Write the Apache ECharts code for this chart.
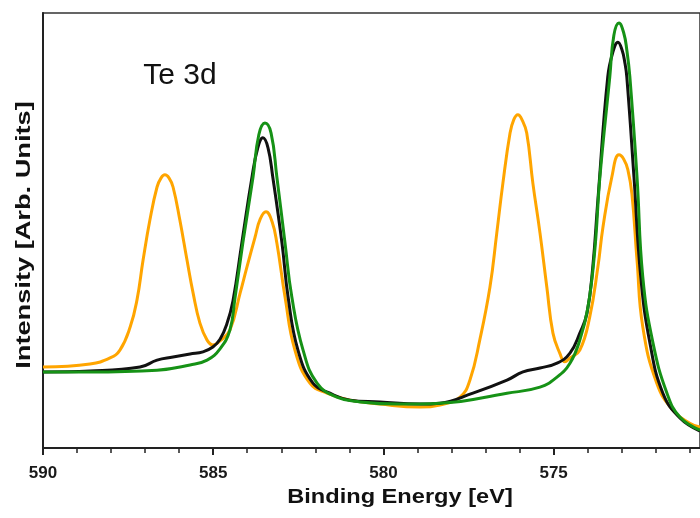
<!DOCTYPE html>
<html>
<head>
<meta charset="utf-8">
<script src="https://cdn.jsdelivr.net/npm/echarts@6/dist/echarts.min.js"></script>
<style>
	html, body { margin: 0; padding: 0; background: #fff; }
	#chart { width: 700px; height: 518px; }
</style>
</head>
<body>
<div id="chart"></div>
<script>
// 结合能 (eV) 与强度 (任意单位)
const orangeE = [590.00, 588.62, 588.03, 587.74, 587.44, 587.24, 587.06, 586.86, 586.65, 586.53,
	586.42, 586.30, 586.18, 585.98, 585.77, 585.59, 585.39, 585.18, 585.01, 584.80,
	584.51, 584.21, 584.01, 583.77, 583.62, 583.45, 583.27, 583.13, 582.89, 582.60,
	582.16, 581.66, 580.98, 580.10, 578.93, 578.34, 577.75, 577.46, 577.17, 576.87,
	576.67, 576.49, 576.28, 576.17, 576.05, 575.93, 575.79, 575.61, 575.40, 575.20,
	575.02, 574.82, 574.67, 574.52, 574.23, 573.94, 573.70, 573.55, 573.29, 573.08,
	572.94, 572.82, 572.70, 572.55, 572.38, 571.97, 571.50, 571.00, 570.70];
const orangeI = [18.6, 19.3, 20.7, 22.5, 27.8, 34.0, 43.2, 52.4, 60.0, 62.1,
	62.8, 62.1, 60.0, 52.4, 43.2, 35.6, 28.7, 24.8, 23.7, 24.6,
	27.1, 35.6, 41.6, 48.5, 52.6, 54.3, 52.0, 47.1, 34.7, 22.5,
	14.9, 12.6, 11.0, 10.1, 9.4, 9.9, 11.7, 15.6, 24.8, 37.0,
	49.4, 60.9, 72.4, 75.5, 76.6, 75.5, 72.4, 60.9, 49.4, 37.0,
	26.4, 21.8, 19.8, 20.7, 22.5, 30.1, 41.6, 50.8, 62.3, 67.4,
	66.4, 64.0, 58.4, 43.2, 27.8, 14.9, 8.7, 5.7, 4.8];

const blackE = [590.00, 588.62, 587.15, 586.65, 586.18, 585.68, 585.30, 585.01, 584.80, 584.60,
	584.42, 584.16, 583.86, 583.69, 583.54, 583.39, 583.25, 582.98, 582.80, 582.51,
	582.07, 581.57, 580.98, 580.10, 578.93, 578.34, 577.37, 576.37, 575.90, 575.40,
	574.90, 574.52, 574.23, 574.02, 573.85, 573.70, 573.41, 573.26, 573.11, 572.99,
	572.91, 572.85, 572.64, 572.44, 572.17, 571.79, 571.29, 570.70];
const blackI = [17.5, 17.7, 18.6, 20.2, 20.9, 21.6, 22.1, 23.2, 25.0, 28.5,
	33.8, 47.1, 62.3, 69.0, 71.3, 69.0, 62.3, 47.1, 34.7, 22.5,
	14.9, 12.6, 11.0, 10.6, 10.1, 10.3, 12.6, 15.6, 17.5, 18.4,
	19.5, 21.8, 26.4, 31.0, 41.6, 57.0, 85.3, 91.0, 93.3, 91.5,
	88.7, 85.3, 62.3, 39.3, 24.1, 12.6, 6.9, 3.9];

const greenE = [590.00, 588.62, 586.65, 585.68, 585.18, 584.80, 584.51, 584.36, 584.13, 583.83,
	583.66, 583.48, 583.30, 583.13, 582.89, 582.69, 582.36, 581.95, 581.37, 580.69,
	579.52, 578.34, 576.37, 575.40, 574.90, 574.52, 574.23, 573.99, 573.79, 573.64,
	573.35, 573.23, 573.08, 572.94, 572.85, 572.76, 572.55, 572.38, 572.08, 571.67,
	571.29, 570.70];
const greenI = [17.5, 17.5, 17.9, 19.1, 20.2, 22.8, 27.1, 34.5, 47.1, 62.3,
	72.0, 74.7, 72.4, 62.3, 47.1, 34.7, 22.5, 14.9, 11.7, 10.6,
	10.1, 10.3, 12.6, 14.0, 16.3, 19.5, 24.8, 32.4, 45.5, 62.3,
	85.3, 94.9, 97.7, 95.4, 91.5, 85.3, 62.3, 39.3, 24.1, 12.6,
	7.1, 4.1];

// 坐标范围与刻度
const xMin = 570.7;
const xMax = 590;
const majorTicks = [575, 580, 585, 590];
const minorTicks = [571, 572, 573, 574, 576, 577, 578, 579, 581, 582, 583, 584, 586, 587, 588, 589];

const chartDom = document.getElementById('chart');
const chartInstance = echarts.init(chartDom, null, { renderer: 'canvas' });

const pairs = (es, vs) => es.map((e, i) => [e, vs[i]]);

const lineSeries = (name, color, es, vs) => ({
	name: name,
	type: 'line',
	data: pairs(es, vs),
	showSymbol: false,
	smooth: 0.45,
	lineStyle: { color: color, width: 3 },
	itemStyle: { color: color },
	animation: false
});

const option = {
	backgroundColor: '#fff',
	animation: false,
	grid: {
		left: 43,
		right: 0,
		top: 13,
		bottom: 70,
		outerBoundsMode: 'none',
		show: true,
		borderColor: '#333',
		borderWidth: 1.5
	},
	xAxis: [
		{
			type: 'value',
			inverse: true,
			min: xMin,
			max: xMax,
			axisLine: { show: true, onZero: false, lineStyle: { color: '#222', width: 2 } },
			axisTick: { show: true, customValues: majorTicks, length: 7, lineStyle: { color: '#222', width: 2 } },
			splitLine: { show: false },
			axisLabel: {
				customValues: majorTicks,
				margin: 17,
				color: '#1a1a1a',
				fontSize: 17,
				fontWeight: 'bold',
				fontFamily: 'Liberation Sans, Arial, sans-serif'
			}
		},
		{
			// 次刻度
			type: 'value',
			inverse: true,
			position: 'bottom',
			min: xMin,
			max: xMax,
			axisLine: { show: false },
			axisTick: { show: true, customValues: minorTicks, length: 5, lineStyle: { color: '#222', width: 1.5 } },
			axisLabel: { show: false },
			splitLine: { show: false }
		}
	],
	yAxis: {
		type: 'value',
		min: 0,
		max: 100,
		axisLine: { show: true, lineStyle: { color: '#222', width: 2 } },
		axisTick: { show: false },
		axisLabel: { show: false },
		splitLine: { show: false }
	},
	graphic: [
		{
			type: 'text',
			x: 180,
			y: 76,
			style: {
				text: 'Te 3d',
				font: '30px "Liberation Sans", Arial, sans-serif',
				fill: '#111',
				textAlign: 'center',
				textVerticalAlign: 'middle'
			}
		},
		{
			type: 'text',
			x: 400,
			y: 497,
			scaleX: 1.18,
			style: {
				text: 'Binding Energy [eV]',
				font: 'bold 20px "Liberation Sans", Arial, sans-serif',
				fill: '#111',
				textAlign: 'center',
				textVerticalAlign: 'middle'
			}
		},
		{
			type: 'text',
			x: 24,
			y: 235,
			rotation: Math.PI / 2,
			scaleX: 1.36,
			style: {
				text: 'Intensity [Arb. Units]',
				font: 'bold 20px "Liberation Sans", Arial, sans-serif',
				fill: '#111',
				textAlign: 'center',
				textVerticalAlign: 'middle'
			}
		}
	],
	series: [
		lineSeries('orange', '#ffa500', orangeE, orangeI),
		lineSeries('black', '#111111', blackE, blackI),
		lineSeries('green', '#169216', greenE, greenI)
	]
};

chartInstance.setOption(option);
</script>
</body>
</html>
